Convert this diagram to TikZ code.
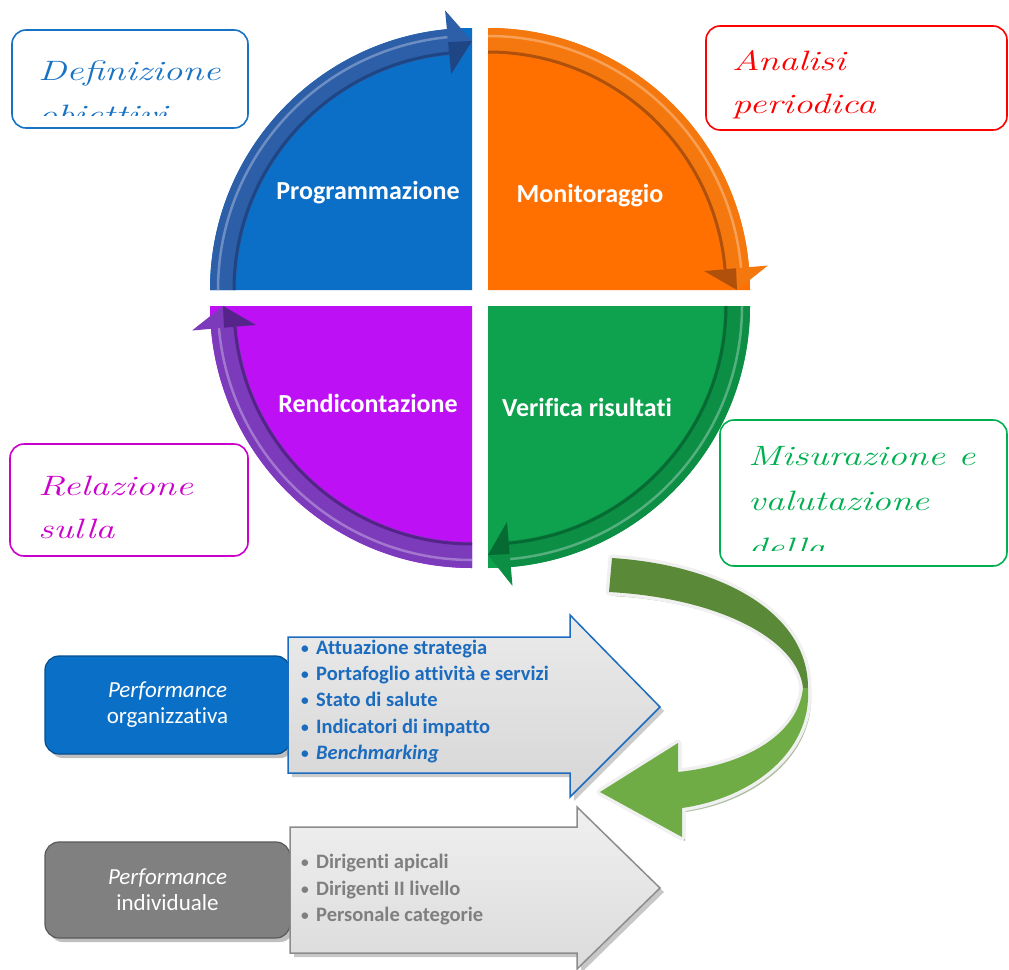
\documentclass[tikz,border=0pt]{standalone}
\usepackage{fontspec}
\newfontfamily\calfont[Ligatures=NoCommon]{Carlito}
\usetikzlibrary{calc}
\definecolor{qblue}{HTML}{0B6FC8}
\definecolor{bblue}{HTML}{2D5EA8}
\definecolor{dblue}{HTML}{1E4584}
\definecolor{qorange}{HTML}{FF7000}
\definecolor{borange}{HTML}{F4780E}
\definecolor{dorange}{HTML}{B0500A}
\definecolor{qgreen}{HTML}{0EA14E}
\definecolor{bgreen}{HTML}{0C8E45}
\definecolor{dgreen}{HTML}{066A33}
\definecolor{qpurple}{HTML}{BE10F4}
\definecolor{bpurple}{HTML}{7C3BBA}
\definecolor{dpurple}{HTML}{55238A}
\definecolor{cblue}{HTML}{1873C5}
\definecolor{cred}{HTML}{FF0000}
\definecolor{cmag}{HTML}{CC00CC}
\definecolor{cgreen}{HTML}{00B050}
\definecolor{boxblue}{HTML}{0A6FC6}
\definecolor{boxgray}{HTML}{808080}
\definecolor{txtblue}{HTML}{1B6BBF}
\definecolor{txtgray}{HTML}{7F7F7F}
\definecolor{rgdark}{HTML}{5A8A38}
\definecolor{rglight}{HTML}{6FAC45}
\newcommand\hand[1]{\scalebox{1.36}[1]{#1}}
\newcommand\bul{\makebox[15pt][l]{\raisebox{1pt}{\scalebox{0.75}{•}}}}
\newcommand\drawquad[7]{%
 \fill[#5] (#1) -- ([shift={(#1)}]#2:262) arc[start angle=#2,end angle=#3,radius=262] -- cycle;
 \fill[#6] ([shift={(#1)}]#2:262) arc[start angle=#2,end angle=#4,radius=262]
   -- ([shift={(#1)}]#4:236) arc[start angle=#4,end angle=#2,radius=236] -- cycle;
 \draw[#6!70!white, line width=2.5pt] ([shift={(#1)}]#2:254) arc[start angle=#2,end angle=#4,radius=254];
 \draw[#7, line width=3pt] ([shift={(#1)}]#2:238) arc[start angle=#2,end angle=#4,radius=238];
 \fill[#6] ([shift={(#1)}]#4:281) -- ([shift={(#1)}]#3:249) -- ([shift={(#1)}]#4:217) -- cycle;
 \fill[#7] ([shift={(#1)}]#4:249) -- ([shift={(#1)}]#3:249) -- ([shift={(#1)}]#4:217) -- cycle;
}
\tikzset{
 qlabel/.style={font=\calfont\bfseries\fontsize{26}{30}\selectfont, text=white, inner sep=0pt},
 callbox/.style={draw, line width=1.6pt, fill=white, rounded corners=14pt, inner sep=0pt},
 handtext/.style={font=\itshape\fontsize{28}{34}\selectfont, anchor=base west, inner sep=0pt},
 pbox/.style={rounded corners=14pt, align=center, text=white, inner sep=0pt,
   font=\calfont\fontsize{23}{26}\selectfont},
 blist/.style={anchor=base west, inner sep=0pt, font=\calfont\bfseries\fontsize{20.5}{24}\selectfont},
}
\begin{document}
\begin{tikzpicture}[x=1pt,y=1pt]
\useasboundingbox (0,0) rectangle (1009,-969);
% quadrant corners
\coordinate (B) at (472,-290);
\coordinate (O) at (488,-290);
\coordinate (P) at (472,-306);
\coordinate (G) at (488,-306);
\drawquad{B}{180}{90}{95.5}{qblue}{bblue}{dblue}
\drawquad{O}{90}{0}{5}{qorange}{borange}{dorange}
\drawquad{G}{0}{-90}{-85}{qgreen}{bgreen}{dgreen}
\drawquad{P}{-90}{-180}{-175}{qpurple}{bpurple}{dpurple}
\node[qlabel] (prog) at (368,-193) {Programmazione};
\node[qlabel] (moni) at (590,-196) {Monitoraggio};
\node[qlabel] (rend) at (368,-403) {Rendicontazione};
\node[qlabel] (veri) at (587,-407) {Verifica risultati};
% callouts
\node[callbox, draw=cblue, minimum width=236pt, minimum height=98pt] (c1) at (130,-79) {};
\node[callbox, draw=cred, minimum width=301pt, minimum height=104pt] (c2) at (856.5,-78) {};
\node[callbox, draw=cmag, minimum width=238pt, minimum height=112pt] (c3) at (129,-500) {};
\node[callbox, draw=cgreen, minimum width=287pt, minimum height=146pt] (c4) at (863.5,-493) {};
\begin{scope}
\clip (14,-32) rectangle (246,-115);
\node[handtext, text=cblue] (t1a) at (38,-80) {\hand{Definizione}};
\node[handtext, text=cblue] (t1b) at (38,-124) {\hand{obiettivi}};
\end{scope}
\node[handtext, text=cred] (t2a) at (732,-70) {\hand{Analisi}};
\node[handtext, text=cred] (t2b) at (732,-113) {\hand{periodica}};
\node[handtext, text=cmag] (t3a) at (38,-495) {\hand{Relazione}};
\node[handtext, text=cmag] (t3b) at (38,-538) {\hand{sulla}};
\begin{scope}
\clip (722,-422) rectangle (1005,-550);
\node[handtext, text=cgreen] (t4a) at (748,-465) {\hand{Misurazione e}};
\node[handtext, text=cgreen] (t4b) at (748,-510) {\hand{valutazione}};
\node[handtext, text=cgreen] (t4c) at (748,-557) {\hand{della}};
\end{scope}
% bottom boxes
\fill[black!25, rounded corners=14pt] (49,-660) rectangle (294,-758);
\node[pbox, fill=boxblue, draw=boxblue!70!black, line width=1.2pt, minimum width=245pt, minimum height=98pt] (porg) at (167.5,-705)
  {\textit{Performance}\\organizzativa};
\fill[black!25, rounded corners=14pt] (49,-846) rectangle (294,-942);
\node[pbox, fill=boxgray, draw=boxgray!70!black, line width=1.2pt, minimum width=245pt, minimum height=96pt] (pind) at (167.5,-890)
  {\textit{Performance}\\individuale};
% arrow 1
\fill[black!20] (292,-641) -- (574,-641) -- (574,-619) -- (664,-711) -- (574,-801) -- (574,-777) -- (292,-777) -- cycle;
\draw[top color=black!8, bottom color=black!16, draw=txtblue, line width=1.5pt]
  (288,-637) -- (570,-637) -- (570,-615) -- (660,-707) -- (570,-797) -- (570,-773) -- (288,-773) -- cycle;
\node[blist, text=txtblue] (l1) at (301,-654) {\bul Attuazione strategia};
\node[blist, text=txtblue] (l2) at (301,-680) {\bul Portafoglio attività e servizi};
\node[blist, text=txtblue] (l3) at (301,-706) {\bul Stato di salute};
\node[blist, text=txtblue] (l4) at (301,-733) {\bul Indicatori di impatto};
\node[blist, text=txtblue] (l5) at (301,-759) {\bul\textit{Benchmarking}};
% arrow 2
\fill[black!22] (294,-831) -- (581,-831) -- (581,-811) -- (664,-892) -- (581,-973) -- (581,-957) -- (294,-957) -- cycle;
\draw[top color=black!6, bottom color=black!14, draw=black!45, line width=1.5pt]
  (290,-827) -- (577,-827) -- (577,-807) -- (660,-888) -- (577,-969) -- (577,-953) -- (290,-953) -- cycle;
\node[blist, text=txtgray] (g1) at (301,-868) {\bul Dirigenti apicali};
\node[blist, text=txtgray] (g2) at (301,-895) {\bul Dirigenti II livello};
\node[blist, text=txtgray] (g3) at (301,-921) {\bul Personale categorie};
% green curved arrow
\begin{scope}[shift={(3,-4)}]
\fill[black!35!rglight!45!white]
 (612,-558) .. controls (720,-565) and (808,-612) .. (808,-688)
 .. controls (812,-752) and (752,-798) .. (682,-808) -- (682,-837) -- (600,-792) -- (678,-743) -- (678,-772)
 .. controls (745,-765) and (798,-735) .. (803,-688) .. controls (798,-640) and (720,-598) .. (609,-592) -- cycle;
\end{scope}
\draw[black!6, line width=7pt, line join=round]
 (612,-558) .. controls (720,-565) and (808,-612) .. (808,-688)
 .. controls (812,-752) and (752,-798) .. (682,-808) -- (682,-837) -- (600,-792) -- (678,-743) -- (678,-772)
 .. controls (745,-765) and (798,-735) .. (803,-688) .. controls (798,-640) and (720,-598) .. (609,-592) -- cycle;
\fill[rgdark] (612,-558) .. controls (720,-565) and (808,-612) .. (808,-688) -- (803,-688)
 .. controls (798,-640) and (720,-598) .. (609,-592) -- cycle;
\fill[rglight] (808,-688) .. controls (812,-752) and (752,-798) .. (682,-808) -- (682,-837) -- (600,-792)
 -- (678,-743) -- (678,-772) .. controls (745,-765) and (798,-735) .. (803,-688) -- cycle;
\end{tikzpicture}
\end{document}
